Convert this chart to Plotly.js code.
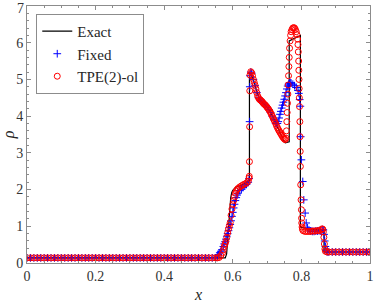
<!DOCTYPE html>
<html>
<head>
<meta charset="utf-8">
<script src="https://cdn.plot.ly/plotly-3.0.1.min.js"></script>
<style>html,body{margin:0;padding:0;background:#fff;}#chart{width:376px;height:304px;}</style>
</head>
<body>
<div id="chart"></div>
<script>
// ---- data ----
const flatLeftX = [0,0.01,0.02,0.03,0.04,0.05,0.06,0.07,0.08,0.09,0.1,0.11,0.12,0.13,0.14,0.15,0.16,0.17,0.18,0.19,0.2,0.21,0.22,0.23,0.24,0.25,0.26,0.27,0.28,0.29,0.3,0.31,0.32,0.33,0.34,0.35,0.36,0.37,0.38,0.39,0.4,0.41,0.42,0.43,0.44,0.45,0.46,0.47,0.48,0.49,0.5,0.51,0.52,0.53,0.54,0.55];
const flatLeftRho = [0.14,0.14,0.14,0.14,0.14,0.14,0.14,0.14,0.14,0.14,0.14,0.14,0.14,0.14,0.14,0.14,0.14,0.14,0.14,0.14,0.14,0.14,0.14,0.14,0.14,0.14,0.14,0.14,0.14,0.14,0.14,0.14,0.14,0.14,0.14,0.14,0.14,0.14,0.14,0.14,0.14,0.14,0.14,0.14,0.14,0.14,0.14,0.14,0.14,0.14,0.14,0.14,0.14,0.14,0.14,0.14];
const flatRightX = [0.875,0.88,0.89,0.9,0.91,0.92,0.93,0.94,0.95,0.96,0.97,0.98,0.99,1.0];
const flatRightRho = [0.30,0.30,0.30,0.30,0.30,0.30,0.30,0.30,0.30,0.30,0.30,0.30,0.30,0.30];

const tpeMidX = [0.555,0.56,0.565,0.57,0.5725,0.575,0.5775,0.58,0.5825,0.585,0.5875,0.59,0.5925,0.595,0.5975,0.6,0.6025,0.605,0.6075,0.61,0.6125,0.615,0.62,0.625,0.63,0.635,0.64,0.645,0.6475,0.648,0.6485,0.649,0.6495,0.65,0.6525,0.655,0.6575,0.66,0.6625,0.665,0.6675,0.67,0.6725,0.675,0.6775,0.68,0.6825,0.685,0.6875,0.69,0.6925,0.695,0.6975,0.7,0.7025,0.705,0.7075,0.71,0.7125,0.715,0.7175,0.72,0.7225,0.725,0.7275,0.73,0.7325,0.735,0.7375,0.74,0.7425,0.745,0.7475,0.75,0.7525,0.755,0.7565,0.7575,0.7585,0.7595,0.7605,0.7615,0.7625,0.7635,0.7645,0.7655,0.767,0.7685,0.77,0.7725,0.775,0.7775,0.78,0.7825,0.785,0.787,0.789,0.79,0.791,0.792,0.7925,0.793,0.7935,0.794,0.7945,0.7955,0.796,0.7965,0.797,0.798,0.799,0.8,0.8005,0.801,0.802,0.803,0.805,0.81,0.815,0.82,0.825,0.83,0.835,0.84,0.845,0.85,0.855,0.86,0.8625,0.864,0.8655,0.867,0.8685,0.87];
const tpeMidRho = [0.14,0.15,0.2,0.28,0.36,0.45,0.52,0.59,0.7,0.82,0.93,1.02,1.1,1.3,1.47,1.59,1.7,1.81,1.9,1.96,2.0,2.03,2.07,2.1,2.13,2.15,2.18,2.23,2.31,2.36,2.76,3.71,4.69,5.12,5.21,5.18,5.1,5.0,4.92,4.84,4.74,4.64,4.55,4.5,4.46,4.44,4.42,4.4,4.37,4.34,4.32,4.3,4.27,4.24,4.21,4.18,4.14,4.1,4.05,4.0,3.95,3.9,3.85,3.8,3.74,3.69,3.64,3.6,3.56,3.52,3.48,3.44,3.41,3.38,3.36,3.4,3.6,3.85,4.1,4.35,4.6,4.85,5.1,5.35,5.6,5.85,6.05,6.2,6.3,6.36,6.4,6.41,6.4,6.36,6.3,6.22,6.1,5.95,5.75,5.5,5.25,5.0,4.75,4.5,4.26,3.85,3.44,3.04,2.63,2.13,1.72,1.45,1.22,1.09,0.98,0.92,0.88,0.86,0.86,0.86,0.86,0.87,0.87,0.87,0.88,0.88,0.89,0.93,0.92,0.85,0.7,0.52,0.38,0.32];

const fixedMidX = [0.555,0.558,0.562,0.565,0.568,0.5725,0.575,0.5775,0.58,0.5825,0.585,0.5875,0.59,0.5925,0.595,0.5975,0.6,0.6025,0.605,0.6075,0.61,0.6125,0.615,0.62,0.625,0.63,0.635,0.64,0.645,0.6475,0.649,0.6495,0.65,0.6525,0.655,0.66,0.665,0.67,0.675,0.68,0.685,0.69,0.695,0.7,0.705,0.71,0.715,0.72,0.725,0.7275,0.73,0.7325,0.735,0.7375,0.74,0.7425,0.745,0.7475,0.75,0.7525,0.755,0.7575,0.76,0.7625,0.765,0.7675,0.77,0.775,0.78,0.785,0.79,0.7925,0.795,0.797,0.798,0.8,0.804,0.807,0.811,0.814,0.818,0.822,0.827,0.832,0.837,0.842,0.847,0.852,0.857,0.862,0.864,0.866,0.868,0.87,0.872];
const fixedMidRho = [0.19,0.23,0.28,0.32,0.36,0.45,0.52,0.58,0.65,0.73,0.8,0.88,0.96,1.05,1.15,1.27,1.38,1.5,1.6,1.7,1.78,1.85,1.9,1.97,2.01,2.06,2.1,2.14,2.2,2.3,3.85,4.8,5.1,5.2,5.17,5.0,4.83,4.64,4.5,4.44,4.4,4.34,4.3,4.24,4.18,4.1,4.0,3.9,3.8,3.8,3.8,3.85,3.95,4.05,4.13,4.22,4.3,4.38,4.46,4.55,4.64,4.74,4.82,4.87,4.9,4.91,4.9,4.87,4.83,4.78,4.7,4.62,4.45,4.27,3.44,2.81,2.22,1.72,1.36,1.09,0.96,0.9,0.87,0.86,0.86,0.87,0.87,0.88,0.89,0.91,0.9,0.78,0.6,0.45,0.35];

const exactX = [0,0.578,0.582,0.585,0.588,0.591,0.594,0.597,0.6,0.605,0.61,0.62,0.63,0.64,0.6485,0.6485,0.652,0.66,0.67,0.68,0.69,0.70,0.71,0.72,0.73,0.74,0.75,0.753,0.7645,0.7645,0.78,0.797,0.797,0.82,0.845,0.866,0.866,1];
const exactRho = [0.14,0.14,0.25,0.6,1.1,1.5,1.78,1.92,1.98,2.03,2.07,2.1,2.14,2.18,2.25,5.18,5.15,5.0,4.66,4.44,4.34,4.24,4.11,3.9,3.7,3.52,3.3,3.27,3.3,6.05,6.12,6.2,0.98,0.93,0.91,0.9,0.30,0.30];

const seriesNames = ['Exact','Fixed','TPE(2)-ol'];
const yTickVals = [0,1,2,3,4,5,6];
const yTickText = ['0','1','2','3','4','5','6'];
const yTopLabel = '7'; // top label at the y-range maximum (axis hides it at the div edge)

function check(a,b,n){ if(a.length!==b.length) throw new Error(n+': '+a.length+' vs '+b.length); }
check(tpeMidX,tpeMidRho,'tpe'); check(fixedMidX,fixedMidRho,'fixed'); check(exactX,exactRho,'exact');

const fixedX = flatLeftX.concat(fixedMidX, flatRightX);
const fixedRho = flatLeftRho.concat(fixedMidRho, flatRightRho);
const tpeX = flatLeftX.concat(tpeMidX, flatRightX);
const tpeRho = flatLeftRho.concat(tpeMidRho, flatRightRho);

const traces = [
  {x: exactX, y: exactRho, name: seriesNames[0], type:'scatter', mode:'lines',
   line:{color:'#000000', width:1.2}},
  {x: fixedX, y: fixedRho, name: seriesNames[1], type:'scatter', mode:'markers',
   marker:{symbol:'cross-thin-open', size:5.5, color:'#0000ff', line:{color:'#0000ff', width:1}}},
  {x: tpeX, y: tpeRho, name: seriesNames[2], type:'scatter', mode:'markers',
   marker:{symbol:'circle-open', size:6, color:'#ff0000', line:{color:'#ff0000', width:1}}}
];

const tickFont = {family:'Liberation Serif', size:14, color:'#333333'};
const axisCommon = {
  showline:true, linecolor:'#8c8c8c', linewidth:1, mirror:'allticks',
  ticks:'inside', ticklen:4, tickcolor:'#8c8c8c', tickwidth:1,
  showgrid:false, zeroline:false,
  tickfont:tickFont
};

const layout = {
  width:376, height:304,
  margin:{l:27, r:6, t:6, b:41},
  paper_bgcolor:'#ffffff', plot_bgcolor:'#ffffff',
  font:{family:'Liberation Serif', size:14, color:'#262626'},
  showlegend:true,
  xaxis: Object.assign({}, axisCommon, {
    range:[0,1], tick0:0, dtick:0.2,
    minor:{dtick:0.05, tick0:0, ticks:'inside', ticklen:2, tickcolor:'#8c8c8c'},
    title:{text:'<i>x</i>', font:{family:'Liberation Serif', size:16, color:'#262626'}, standoff:6}
  }),
  yaxis: Object.assign({}, axisCommon, {
    range:[0,7], tickmode:'array', tickvals:yTickVals, ticktext:yTickText,
    minor:{dtick:0.2, tick0:0, ticks:'inside', ticklen:2, tickcolor:'#8c8c8c'},
    title:{text:'<i>ρ</i>', font:{family:'Liberation Serif', size:16, color:'#262626'}, standoff:6}
  }),
  annotations:[{xref:'paper', yref:'paper', x:0, y:1, text:yTopLabel, showarrow:false,
    xanchor:'right', yanchor:'top', xshift:-2, yshift:6, borderpad:0, font:tickFont}],
  legend:{x:0.027, y:0.969, xanchor:'left', yanchor:'top',
    bgcolor:'#ffffff', bordercolor:'#8c8c8c', borderwidth:1,
    font:{family:'Liberation Serif', size:15, color:'#262626'}, tracegroupgap:0}
};

Plotly.newPlot('chart', traces, layout, {staticPlot:true, displayModeBar:false});
</script>
</body>
</html>
